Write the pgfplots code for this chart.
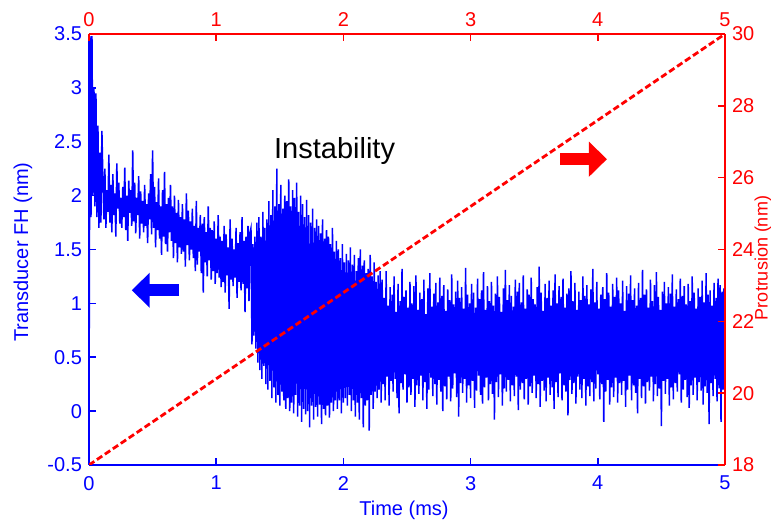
\documentclass[border=0pt]{standalone}
\usepackage{fontspec}
\setmainfont{Liberation Sans}
\usepackage{pgfplots}
\usepackage{pgfplotstable}
\pgfplotsset{compat=1.18}
\usetikzlibrary{arrows.meta,calc}

% Transducer fly-height signal, sampled every 1/128 ms from 0 to 5 ms
\pgfplotstableread{
fh
-0.15
3.48
1.80
3.48
2.00
3.00
1.90
2.95
1.80
2.65
1.70
2.40
1.75
2.60
2.15
1.78
2.25
1.70
2.05
1.85
2.38
1.75
2.10
1.66
2.20
1.82
2.02
1.62
2.30
1.88
2.12
1.74
1.98
1.70
2.08
1.80
2.26
1.68
2.00
1.58
2.14
1.84
2.05
1.72
2.42
1.76
2.12
1.65
1.98
1.82
2.18
1.60
2.04
1.74
1.95
1.66
2.10
1.72
1.92
1.56
2.02
1.78
2.20
1.64
2.42
1.70
2.08
1.52
1.94
1.68
2.16
1.60
1.90
1.45
2.05
1.62
2.22
1.55
1.92
1.48
1.98
1.66
2.10
1.58
1.90
1.42
2.00
1.56
1.84
1.38
1.96
1.52
1.80
1.46
1.92
1.48
1.78
1.34
2.02
1.54
1.86
1.40
1.76
1.50
1.88
1.42
1.72
1.30
1.95
1.36
1.70
1.48
1.82
1.28
1.74
1.10
1.80
1.38
1.66
1.25
1.90
1.40
1.70
1.22
1.68
1.30
1.76
1.18
1.60
1.28
1.82
1.24
1.62
1.15
1.58
1.20
1.72
1.10
1.64
1.26
1.52
0.95
1.78
1.22
1.60
1.16
1.50
1.24
1.70
1.05
1.56
1.20
1.66
1.12
1.80
1.18
1.58
0.92
1.62
1.14
1.72
1.02
1.66
1.70
0.62
1.55
0.70
1.62
0.58
1.75
0.45
1.80
0.38
1.62
0.30
1.85
0.42
1.70
0.25
1.78
0.20
1.95
0.28
1.82
0.12
2.05
0.22
1.90
0.08
2.25
0.15
1.92
0.05
2.10
0.18
1.88
0.10
2.00
0.02
1.95
0.12
2.15
0.00
1.90
0.08
2.05
-0.02
1.98
0.15
2.12
-0.05
1.85
0.05
2.00
-0.10
1.92
0.02
1.80
-0.03
1.96
0.00
1.82
-0.15
1.75
0.05
1.88
-0.08
1.70
0.04
1.78
-0.05
1.72
0.06
1.65
-0.12
1.78
0.02
1.60
-0.04
1.68
0.05
1.62
-0.06
1.55
0.08
1.70
0.00
1.48
0.10
1.58
0.02
1.50
0.10
1.42
-0.02
1.55
0.08
1.38
0.12
1.46
0.05
1.40
0.15
1.52
0.00
1.36
0.10
1.45
-0.05
1.30
0.08
1.42
-0.08
1.50
0.12
1.35
-0.15
1.40
0.05
1.28
0.10
1.32
-0.18
1.45
0.15
1.25
0.02
1.38
0.18
1.20
0.12
1.26
0.20
1.30
0.08
1.22
0.25
1.05
0.10
1.30
0.32
0.98
0.05
1.15
0.28
1.08
0.18
1.25
0.30
0.92
0.12
1.18
-0.02
1.02
0.26
1.32
0.20
1.06
0.34
1.12
0.08
0.96
0.22
1.20
0.15
1.00
0.30
1.16
0.04
1.26
0.24
0.94
0.16
1.10
0.33
1.04
0.10
1.22
0.27
0.90
0.02
1.14
0.20
1.28
0.31
0.97
0.14
1.09
0.25
1.19
0.06
1.01
0.29
1.24
0.18
1.07
0.00
1.17
0.23
0.93
0.11
1.13
0.32
1.03
0.09
1.27
0.21
0.99
0.35
1.11
0.13
1.21
-0.05
1.05
0.26
1.15
0.17
0.95
0.30
1.33
0.08
1.08
0.24
1.00
0.12
1.18
0.28
1.10
0.03
0.96
0.19
1.23
0.33
1.04
0.15
1.12
0.07
1.29
0.22
0.94
0.31
1.16
0.10
1.02
0.25
1.20
0.16
0.98
-0.08
1.09
0.27
1.25
0.13
1.06
0.34
0.92
0.05
1.14
0.21
1.31
0.18
1.03
0.29
1.17
0.09
1.07
0.24
0.97
0.14
1.22
0.32
1.11
0.01
1.19
0.20
1.01
0.26
1.26
0.11
0.95
0.30
1.13
0.06
1.08
0.23
1.24
0.17
1.04
0.33
0.99
0.12
1.15
0.25
1.34
0.04
1.10
0.28
0.93
0.19
1.18
0.09
1.05
0.31
1.21
0.15
0.98
0.22
1.12
0.02
1.27
0.27
1.00
0.13
1.16
0.35
1.06
0.10
1.23
0.24
0.96
0.18
1.09
-0.04
1.14
0.29
1.30
0.16
1.02
0.26
1.19
0.07
0.94
0.32
1.11
0.20
1.03
0.12
1.25
0.30
1.07
0.05
1.17
0.23
0.99
0.14
1.13
0.27
1.32
0.09
1.01
0.21
1.20
0.34
0.95
0.11
1.08
0.25
1.15
-0.10
1.04
0.18
1.28
0.29
1.10
0.06
0.97
0.22
1.18
0.13
1.06
0.31
1.24
0.08
1.12
0.26
1.00
0.15
1.21
0.28
0.93
0.04
1.16
0.20
1.09
0.33
1.26
0.10
1.03
0.24
1.14
0.17
0.98
-0.02
1.19
0.30
1.05
0.12
1.31
0.23
1.08
0.07
1.13
0.27
0.96
0.19
1.22
0.32
1.02
0.09
1.17
0.25
1.29
0.14
1.06
0.21
0.94
-0.14
1.11
0.28
1.20
0.16
1.00
0.30
1.15
0.05
1.09
0.22
1.27
0.11
0.97
0.26
1.13
0.18
1.04
0.34
1.23
0.08
1.07
0.20
1.16
0.29
0.99
0.13
1.18
0.03
1.02
0.24
1.25
0.15
1.10
0.31
0.95
0.10
1.14
0.27
1.06
0.19
1.21
0.06
1.01
0.23
1.28
0.17
1.08
-0.12
1.12
0.26
0.98
0.14
1.19
0.30
1.05
0.09
1.23
0.21
1.17
-0.10
1.11
0.20
1.14
0.55
}\fhdata

\definecolor{fhblue}{RGB}{0,0,255}
\definecolor{prred}{RGB}{255,0,0}

\pgfplotsset{
  twin/.style={
    scale only axis, width=318pt, height=215.5pt,
    xmin=0, xmax=5,
    tick align=inside, major tick length=3.5pt,
    xtick={0,1,2,3,4,5},
    /pgf/number format/assume math mode=true,
    tick label style={font=\fontsize{10}{12}\selectfont},
  },
}

\begin{document}
\begin{tikzpicture}
% left/bottom axis: transducer fly height
\begin{axis}[
  twin,
  ymin=-0.5, ymax=3.5,
  ytick={-0.5,0,0.5,1,1.5,2,2.5,3,3.5},
  axis x line*=bottom, axis y line*=left,
  axis line style={fhblue, line width=0.8pt},
  every tick/.style={fhblue, line width=0.8pt},
  tick label style={text=fhblue},
  xticklabel style={yshift=-2pt},
]
\coordinate (SW) at (rel axis cs:0,0);
\coordinate (NE) at (rel axis cs:1,1);
\addplot[fhblue, line width=0.75pt] table[x expr=\coordindex*0.0078125, y=fh] {\fhdata};
\node[anchor=base west, font=\fontsize{14.5}{17}\selectfont, text=black]
  at (axis cs:1.40,2.347) {Instability};
\draw[fhblue, line width=6pt, -{Triangle[length=9pt,width=17pt]}]
  (axis cs:0.708,1.122) -- (axis cs:0.336,1.122);
\draw[prred, line width=6pt, -{Triangle[length=9pt,width=17pt]}]
  (axis cs:3.703,2.338) -- (axis cs:4.072,2.338);
\end{axis}
% right/top axis: protrusion ramp
\begin{axis}[
  twin,
  ymin=18, ymax=30,
  ytick={18,20,22,24,26,28,30},
  axis x line*=top, axis y line*=right,
  axis line style={prred, line width=0.8pt},
  every tick/.style={prred, line width=0.8pt},
  tick label style={text=prred},
]
\addplot[prred, line width=1.4pt, dash pattern=on 3.2pt off 1.6pt] coordinates {(0,18) (5,30)};
\end{axis}
\node[rotate=90, text=fhblue, font=\fontsize{10}{12}\selectfont]
  at ($(SW)+(-33pt,106.5pt)$) {Transducer FH (nm)};
\node[rotate=90, text=prred, font=\fontsize{9}{11}\selectfont, inner sep=0pt]
  at ($(SW)+(337pt,103.5pt)$) {Protrusion (nm)};
\node[text=fhblue, font=\fontsize{10}{12}\selectfont]
  at ($(SW)+(157.5pt,-22.75pt)$) {Time (ms)};
\pgfresetboundingbox
\path[use as bounding box] ($(SW)+(-44.5pt,-29pt)$) rectangle ++(385.5pt,261.5pt);
\end{tikzpicture}
\end{document}
